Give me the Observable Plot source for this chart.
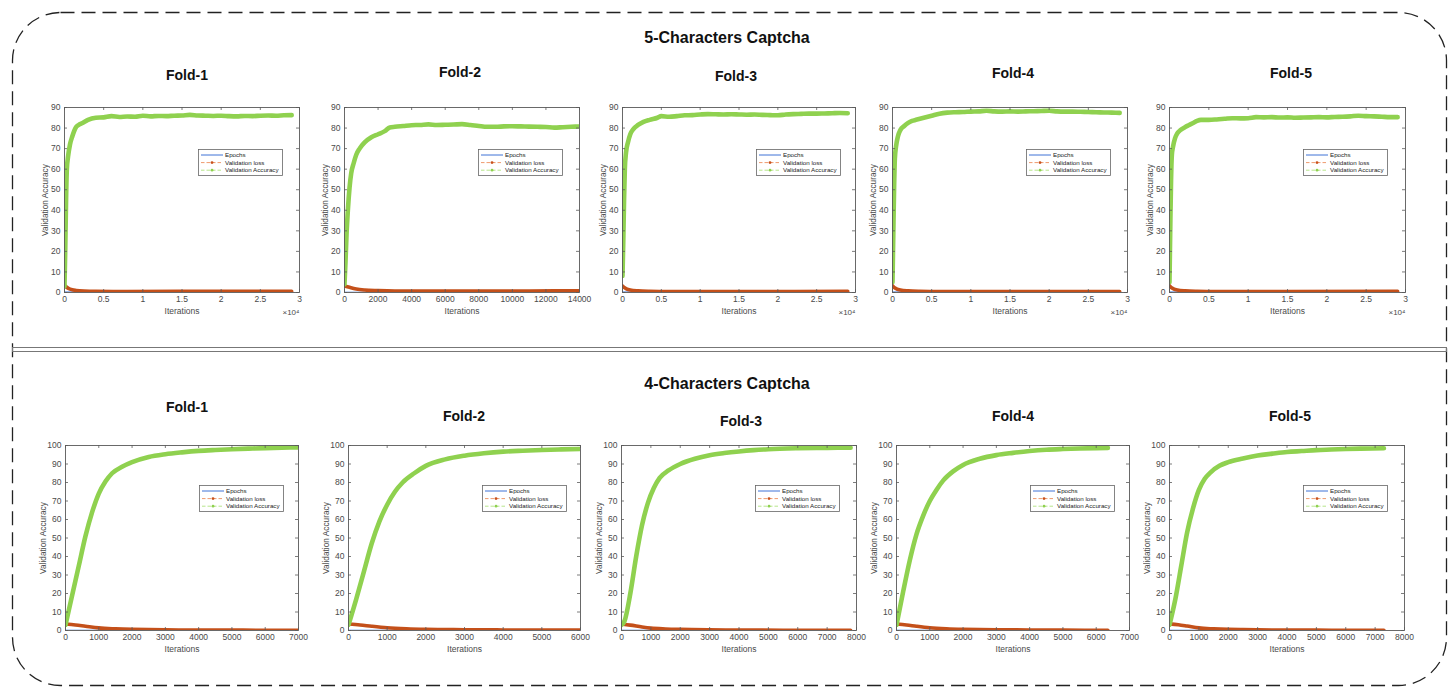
<!DOCTYPE html>
<html><head><meta charset="utf-8">
<script src="https://cdn.jsdelivr.net/npm/d3@7"></script>
<script src="https://cdn.jsdelivr.net/npm/@observablehq/plot@0.6"></script>
<style>
body{margin:0;background:#fff;font-family:"Liberation Sans",Arial,sans-serif;}
#page{position:relative;width:1455px;height:688px;overflow:hidden;background:#fff;}
.panel{position:absolute;overflow:hidden;}
.title{position:absolute;font-weight:bold;transform:translate(-50%,-50%);white-space:nowrap;color:#111;}
.legend{position:absolute;}
</style></head><body><div id="page"></div>
<script>
// ---------- DATA ----------
const rowTitles = ["5-Characters Captcha", "4-Characters Captcha"];
const foldNames = ["Fold-1", "Fold-2", "Fold-3", "Fold-4", "Fold-5"];
const legendLabels = ["Epochs", "Validation loss", "Validation Accuracy"];
const yTicks5 = [0,10,20,30,40,50,60,70,80,90];
const yTicks4 = [0,10,20,30,40,50,60,70,80,90,100];
const xTicks3e4 = [0,5000,10000,15000,20000,25000,30000];
const xTicks14000 = [0,2000,4000,6000,8000,10000,12000,14000];
const xTicks7000 = [0,1000,2000,3000,4000,5000,6000,7000];
const xTicks6000 = [0,1000,2000,3000,4000,5000,6000];
const xTicks8000 = [0,1000,2000,3000,4000,5000,6000,7000,8000];
const xMax5 = [30000, 14000, 30000, 30000, 30000];
const xMax4 = [7000, 6000, 8000, 7000, 8000];

// 5-character captcha: [iteration, value]
const acc5F1 = [[0,3],[100,22],[200,45],[300,60],[450,66],[700,72],[1000,76],[1400,80],[1800,81.5],[2300,82.5],[3000,84],[4000,85],[5000,85.2],[6000,85.8],[7000,85.4],[8000,85.6],[9000,85.5],[10000,86],[11000,85.7],[12000,85.9],[13000,85.8],[14000,86],[15000,86.1],[16000,86.4],[17000,86.1],[18000,86],[19000,85.9],[20000,86],[21000,85.8],[22000,85.7],[23000,85.9],[24000,85.8],[25000,86],[26000,86.1],[27000,86],[28000,86.2],[29000,86.3]];
const loss5F1 = [[0,3.5],[200,2.8],[500,2],[1000,1.3],[1500,1],[2500,0.7],[4000,0.55],[8000,0.5],[15000,0.55],[22000,0.6],[29000,0.6]];
const epochs5F1 = [[0,0.15],[29000,0.15]];

const acc5F2 = [[0,4],[60,15],[120,28],[200,40],[300,51],[400,58],[550,63],[700,67],[900,70],[1200,73],[1600,75.5],[2000,77],[2400,78.5],[2700,80.3],[3000,80.6],[3500,81],[4000,81.4],[4500,81.5],[5000,81.8],[5500,81.5],[6000,81.6],[6500,81.7],[7000,81.9],[7500,81.5],[8000,81],[8500,80.6],[9000,80.6],[9500,80.8],[10000,80.9],[10500,80.8],[11000,80.7],[11500,80.6],[12000,80.5],[12500,80.2],[13000,80.4],[13500,80.6],[14000,80.8]];
const loss5F2 = [[0,3.2],[300,2.5],[700,1.7],[1200,1.2],[2000,0.9],[3000,0.7],[5000,0.65],[8000,0.65],[11000,0.75],[14000,0.85]];
const epochs5F2 = [[0,0.1],[14000,0.1]];

const acc5F3 = [[0,8],[100,25],[200,45],[300,60],[450,68],[700,73],[1000,77],[1400,79.5],[2000,81.5],[2700,83],[3500,84],[4500,85],[5000,85.8],[6000,85.5],[7000,85.8],[8000,86.2],[9000,86.3],[10000,86.6],[11000,86.8],[12000,86.7],[13000,86.6],[14000,86.7],[15000,86.6],[16000,86.5],[17000,86.6],[18000,86.4],[19000,86.3],[20000,86.2],[21000,86.6],[22000,86.8],[23000,86.9],[24000,87],[25000,87],[26000,87.1],[27000,87.2],[28000,87.3],[29000,87.2]];
const loss5F3 = [[0,3.2],[200,2.5],[500,1.8],[1000,1.2],[2000,0.8],[3500,0.6],[6000,0.5],[15000,0.5],[29000,0.55]];
const epochs5F3 = [[0,0.15],[29000,0.15]];

const acc5F4 = [[0,5],[100,28],[200,50],[300,65],[450,71],[700,76],[1000,79],[1500,81],[2000,82.5],[2500,83.5],[3000,84],[4000,85],[5000,86],[6000,87],[7000,87.5],[8000,87.7],[9000,87.8],[10000,88],[11000,88.1],[12000,88.4],[13000,88.1],[14000,88],[15000,88.1],[16000,88],[17000,88.1],[18000,88.2],[19000,88.3],[20000,88.4],[21000,88.1],[22000,88],[23000,88],[24000,87.9],[25000,87.8],[26000,87.7],[27000,87.6],[28000,87.5],[29000,87.4]];
const loss5F4 = [[0,3.3],[200,2.5],[500,1.8],[1000,1.2],[2000,0.8],[3500,0.6],[6000,0.5],[15000,0.5],[29000,0.5]];
const epochs5F4 = [[0,0.15],[29000,0.15]];

const acc5F5 = [[0,5],[100,32],[200,55],[300,67],[450,71],[700,75],[1000,77.5],[1400,79],[2000,80.5],[2500,81.5],[3000,82.5],[3500,83.5],[4000,84],[5000,84],[6000,84.2],[7000,84.5],[8000,84.8],[9000,84.7],[10000,84.8],[11000,85.3],[12000,85.2],[13000,85.3],[14000,85.1],[15000,85.2],[16000,85],[17000,85.1],[18000,85.2],[19000,85.3],[20000,85.2],[21000,85.4],[22000,85.5],[23000,85.7],[24000,86],[25000,85.8],[26000,85.7],[27000,85.5],[28000,85.3],[29000,85.3]];
const loss5F5 = [[0,3.3],[200,2.5],[500,1.8],[1000,1.2],[2000,0.8],[3500,0.6],[6000,0.5],[15000,0.5],[29000,0.55]];
const epochs5F5 = [[0,0.15],[29000,0.15]];

// 4-character captcha
const acc4F1 = [[0,3],[200,19],[400,35],[600,51],[800,64],[1000,74],[1200,80.5],[1400,85],[1700,88.5],[2000,91],[2500,93.8],[3000,95.3],[3500,96.3],[4000,97.1],[4500,97.6],[5000,98],[5500,98.3],[6000,98.6],[6500,98.8],[7000,99]];
const loss4F1 = [[0,3.5],[300,3],[600,2.3],[1000,1.4],[1500,0.9],[2000,0.6],[2500,0.45],[3000,0.35],[4000,0.25],[5000,0.2],[6000,0.15],[7000,0.12]];
const epochs4F1 = [[0,0.05],[7000,0.05]];

const acc4F2 = [[0,3],[200,17],[400,32],[600,47],[800,59],[1000,68],[1200,75],[1400,80],[1700,85],[2000,89],[2500,92.5],[3000,94.5],[3500,95.8],[4000,96.7],[4500,97.2],[5000,97.6],[5500,97.9],[6000,98.1]];
const loss4F2 = [[0,3.5],[300,3],[600,2.3],[1000,1.5],[1500,0.95],[2000,0.65],[2500,0.5],[3000,0.4],[4000,0.3],[5000,0.25],[6000,0.2]];
const epochs4F2 = [[0,0.05],[6000,0.05]];

const acc4F3 = [[0,3],[100,5],[300,20],[500,40],[700,57],[900,69],[1100,77],[1300,82.5],[1600,86.5],[2000,90],[2500,92.8],[3000,94.7],[3500,95.9],[4000,96.8],[4500,97.5],[5000,98],[6000,98.5],[7000,98.7],[7800,98.8]];
const loss4F3 = [[0,3.5],[300,2.9],[700,1.9],[1000,1.3],[1500,0.85],[2000,0.6],[3000,0.35],[4000,0.25],[5500,0.17],[7800,0.12]];
const epochs4F3 = [[0,0.05],[7800,0.05]];

const acc4F4 = [[0,3],[200,21],[400,38],[600,52],[800,62],[1000,70],[1200,76],[1400,81],[1700,86],[2000,89.5],[2500,92.8],[3000,94.8],[3500,96],[4000,97],[4500,97.7],[5000,98.1],[5500,98.4],[6000,98.6],[6350,98.7]];
const loss4F4 = [[0,3.5],[300,3],[600,2.3],[1000,1.5],[1500,0.95],[2000,0.65],[2500,0.5],[3000,0.4],[4000,0.28],[5000,0.2],[6350,0.15]];
const epochs4F4 = [[0,0.05],[6350,0.05]];

const acc4F5 = [[0,3],[200,17],[400,35],[600,53],[800,66],[1000,76],[1200,82],[1400,85.5],[1700,89],[2000,91],[2500,93],[3000,94.6],[3500,95.6],[4000,96.5],[4500,97],[5000,97.5],[5500,97.8],[6000,98.1],[6500,98.3],[7300,98.5]];
const loss4F5 = [[0,3.6],[300,3.1],[600,2.4],[1000,1.4],[1500,0.9],[2000,0.6],[2500,0.45],[3000,0.35],[4000,0.25],[5000,0.2],[6000,0.15],[7300,0.12]];
const epochs4F5 = [[0,0.05],[7300,0.05]];

// ---------- LAYOUT ----------
const rows = [
  {title: rowTitles[0], titleY: 38, top: 95, h: 235, fy0: 107, fy1: 292, yMax: 90, yTicks: yTicks5, ylabDx: -19, legDy: 42,
   panels: [
    {cL: 26,   cR: 314,  fx0: 64,   fx1: 299,  tx: 187,  ty: 75, xTicks: xTicks3e4,   sci: true,  acc: acc5F1, loss: loss5F1, ep: epochs5F1, xMax: xMax5[0]},
    {cL: 314,  cR: 594,  fx0: 344,  fx1: 579,  tx: 460,  ty: 72, xTicks: xTicks14000, sci: false, acc: acc5F2, loss: loss5F2, ep: epochs5F2, xMax: xMax5[1]},
    {cL: 594,  cR: 862,  fx0: 622,  fx1: 855,  tx: 736,  ty: 76, xTicks: xTicks3e4,   sci: true,  acc: acc5F3, loss: loss5F3, ep: epochs5F3, xMax: xMax5[2]},
    {cL: 862,  cR: 1142, fx0: 892,  fx1: 1127, tx: 1013, ty: 73, xTicks: xTicks3e4,   sci: true,  acc: acc5F4, loss: loss5F4, ep: epochs5F4, xMax: xMax5[3]},
    {cL: 1142, cR: 1442, fx0: 1169, fx1: 1405, tx: 1291, ty: 73, xTicks: xTicks3e4,   sci: true,  acc: acc5F5, loss: loss5F5, ep: epochs5F5, xMax: xMax5[4]}
  ]},
  {title: rowTitles[1], titleY: 384, top: 432, h: 232, fy0: 445, fy1: 630, yMax: 100, yTicks: yTicks4, ylabDx: -22, legDy: 40,
   panels: [
    {cL: 22,   cR: 318,  fx0: 65,   fx1: 298,  tx: 187,  ty: 407, xTicks: xTicks7000, sci: false, acc: acc4F1, loss: loss4F1, ep: epochs4F1, xMax: xMax4[0]},
    {cL: 318,  cR: 594,  fx0: 348,  fx1: 580,  tx: 464,  ty: 416, xTicks: xTicks6000, sci: false, acc: acc4F2, loss: loss4F2, ep: epochs4F2, xMax: xMax4[1]},
    {cL: 594,  cR: 870,  fx0: 621,  fx1: 856,  tx: 741,  ty: 421, xTicks: xTicks8000, sci: false, acc: acc4F3, loss: loss4F3, ep: epochs4F3, xMax: xMax4[2]},
    {cL: 870,  cR: 1143, fx0: 896,  fx1: 1129, tx: 1013, ty: 416, xTicks: xTicks7000, sci: false, acc: acc4F4, loss: loss4F4, ep: epochs4F4, xMax: xMax4[3]},
    {cL: 1143, cR: 1442, fx0: 1169, fx1: 1404, tx: 1290, ty: 416, xTicks: xTicks8000, sci: false, acc: acc4F5, loss: loss4F5, ep: epochs4F5, xMax: xMax4[4]}
  ]}
];

const page = document.getElementById("page");
const FONT = "'Liberation Sans', Arial, sans-serif";
const AX = "#5a5a5a", TXT = "#4a4a4a";

function addTitle(text, x, y, size) {
  const d = document.createElement("div");
  d.className = "title";
  d.style.left = x + "px"; d.style.top = y + "px"; d.style.fontSize = size + "px";
  d.textContent = text;
  page.appendChild(d);
}

function addLegend(x, y) {
  const w = 85, h = 27;
  const div = document.createElement("div");
  div.className = "legend";
  div.style.left = x + "px"; div.style.top = y + "px";
  const svg = d3.create("svg").attr("width", w).attr("height", h);
  svg.append("rect").attr("x", 0.5).attr("y", 0.5).attr("width", w - 1).attr("height", h - 1)
    .attr("fill", "#fff").attr("stroke", "#666").attr("stroke-width", 0.8);
  const styles = [
    {stroke: "#3f73d6", dash: null, dot: null},
    {stroke: "#ef9a6e", dash: "3.5 2", dot: "#c8501a"},
    {stroke: "#b7e58c", dash: "3.5 2", dot: "#8fd14f"}
  ];
  styles.forEach((s, i) => {
    const yy = 6 + i * 7.6;
    const ln = svg.append("line").attr("x1", 3).attr("x2", 25).attr("y1", yy).attr("y2", yy)
      .attr("stroke", s.stroke).attr("stroke-width", 1);
    if (s.dash) ln.attr("stroke-dasharray", s.dash);
    if (s.dot) svg.append("circle").attr("cx", 14).attr("cy", yy).attr("r", 1.4).attr("fill", s.dot);
    svg.append("text").attr("x", 27).attr("y", yy).attr("dy", "0.35em")
      .attr("font-size", 6.2).attr("font-family", FONT).attr("fill", "#222").text(legendLabels[i]);
  });
  div.appendChild(svg.node());
  page.appendChild(div);
}

rows.forEach(row => {
  addTitle(row.title, 727, row.titleY, 16);
  row.panels.forEach((p, i) => {
    const W = p.cR - p.cL, H = row.h;
    const mL = p.fx0 - p.cL, mR = p.cR - p.fx1;
    const mT = row.fy0 - row.top, mB = row.top + H - row.fy1;
    const iw = p.fx1 - p.fx0, ih = row.fy1 - row.fy0;
    const tk = 3;
    const xy = {x: d => d[0], y: d => d[1]};
    const marks = [
      Plot.line(p.ep, {...xy, stroke: "#2f6fd6", strokeWidth: 1.2, clip: true}),
      Plot.line(p.loss, {...xy, stroke: "#c4501a", strokeWidth: 3.6, curve: "monotone-x", clip: true}),
      Plot.line(p.acc, {...xy, stroke: "#8fd14f", strokeWidth: 4.6, curve: "monotone-x", clip: true}),
      Plot.frame({stroke: AX, strokeWidth: 0.9}),
      Plot.tickX(p.xTicks, {x: d => d, insetTop: ih - tk, stroke: AX, strokeWidth: 0.8}),
      Plot.tickX(p.xTicks, {x: d => d, insetBottom: ih - tk, stroke: AX, strokeWidth: 0.8}),
      Plot.tickY(row.yTicks, {y: d => d, insetRight: iw - tk, stroke: AX, strokeWidth: 0.8}),
      Plot.tickY(row.yTicks, {y: d => d, insetLeft: iw - tk, stroke: AX, strokeWidth: 0.8}),
      Plot.axisX({ticks: p.xTicks, tickSize: 0, tickPadding: 3, label: null, fontSize: 8.5, fill: TXT,
        tickFormat: p.sci ? (d => String(d / 1e4)) : (d => String(d))}),
      Plot.axisY({ticks: row.yTicks, tickSize: 0, tickPadding: 4, label: null, fontSize: 8.5, fill: TXT,
        tickFormat: d => String(d)}),
      Plot.text(["Iterations"], {frameAnchor: "bottom", dy: 19, textAnchor: "middle", lineAnchor: "middle", text: d => d, fontSize: 8.5, fill: TXT}),
      Plot.text(["Validation Accuracy"], {frameAnchor: "left", dx: row.ylabDx, rotate: -90, textAnchor: "middle", lineAnchor: "middle", text: d => d, fontSize: 8.3, fill: TXT})
    ];
    if (p.sci) marks.push(Plot.text(["×10⁴"], {frameAnchor: "bottom-right", dy: 20, dx: 0, textAnchor: "end", lineAnchor: "middle", text: d => d, fontSize: 8, fill: TXT}));
    const chart = Plot.plot({
      width: W, height: H,
      marginLeft: mL, marginRight: mR, marginTop: mT, marginBottom: mB,
      style: {fontFamily: FONT, background: "#fff", color: TXT},
      x: {domain: [0, p.xMax]},
      y: {domain: [0, row.yMax]},
      marks
    });
    const div = document.createElement("div");
    div.className = "panel";
    div.style.left = p.cL + "px"; div.style.top = row.top + "px";
    div.style.width = W + "px"; div.style.height = H + "px";
    div.appendChild(chart);
    page.appendChild(div);
    addTitle(foldNames[i], p.tx, p.ty, 14);
    addLegend(p.fx0 + 134, row.fy0 + row.legDy);
  });
});

// decorative frame: dashed rounded border and double separator
const deco = d3.create("svg").attr("width", 1455).attr("height", 688)
  .style("position", "absolute").style("left", "0px").style("top", "0px").style("pointer-events", "none");
deco.append("rect").attr("x", 12.5).attr("y", 12.5).attr("width", 1434).attr("height", 673).attr("rx", 48).attr("ry", 48)
  .attr("fill", "none").attr("stroke", "#222").attr("stroke-width", 1.3).attr("stroke-dasharray", "14 7");
[347.5, 351.5].forEach(y => deco.append("line").attr("x1", 12).attr("x2", 1447).attr("y1", y).attr("y2", y)
  .attr("stroke", "#777").attr("stroke-width", 1));
[12.5, 1446.5].forEach(x => deco.append("line").attr("x1", x).attr("x2", x).attr("y1", 347).attr("y2", 352)
  .attr("stroke", "#777").attr("stroke-width", 1));
page.appendChild(deco.node());
</script>
</body></html>
